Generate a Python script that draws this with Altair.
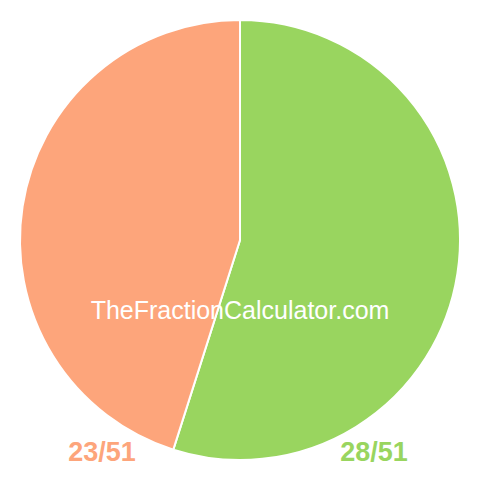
import altair as alt
import pandas as pd

labels = ["28/51", "23/51"]
values = [28, 23]
colors = ["#99D55F", "#FDA57B"]
order = [1, 2]

pie_df = pd.DataFrame({"label": labels, "value": values, "order": order})

pie = alt.Chart(pie_df).mark_arc(radius=220, stroke="white", strokeWidth=2).encode(
    theta=alt.Theta("value:Q", stack=True),
    color=alt.Color("label:N", scale=alt.Scale(domain=labels, range=colors), legend=None),
    order=alt.Order("order:Q"),
)

wm_df = pd.DataFrame({"t": ["TheFractionCalculator.com"]})
watermark = alt.Chart(wm_df).mark_text(
    font="Liberation Sans", fontSize=25, color="white", align="center", baseline="alphabetic"
).encode(text="t:N", x=alt.value(232), y=alt.value(311))

lab_df = pd.DataFrame({"label": labels, "xpos": [366, 94]})
lab = alt.Chart(lab_df).mark_text(
    font="Liberation Sans", fontSize=27, fontWeight="bold", align="center", baseline="alphabetic"
).encode(
    text="label:N",
    x=alt.X("xpos:Q", scale=alt.Scale(domain=[0, 464], range=[0, 464]), axis=None),
    y=alt.value(453),
    color=alt.Color("label:N", scale=alt.Scale(domain=labels, range=colors), legend=None),
)

chart = alt.layer(pie, watermark, lab).properties(
    width=464, height=464, padding=0, autosize=alt.AutoSizeParams(type="none")
).configure_view(stroke=None)

chart.save("out.html", embed_options={"renderer": "svg", "actions": False})
